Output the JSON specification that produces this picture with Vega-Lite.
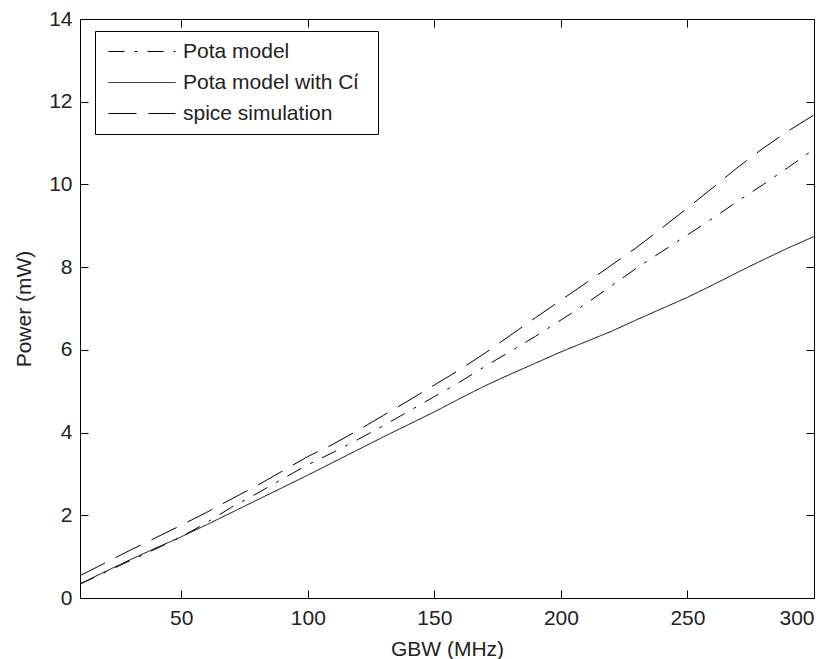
{
  "$schema": "https://vega.github.io/schema/vega-lite/v6.json",
  "width": 734,
  "height": 579,
  "autosize": {"type": "none"},
  "padding": {"left": 80, "top": 19, "right": 18, "bottom": 61},
  "background": "white",
  "config": {
    "font": "Liberation Sans",
    "view": {"stroke": "black", "strokeWidth": 1},
    "axis": {
      "grid": false,
      "domain": false,
      "offset": -8,
      "zindex": 2,
      "tickColor": "black",
      "tickWidth": 1,
      "tickSize": 8,
      "labelFont": "Liberation Sans",
      "labelFontSize": 21,
      "labelColor": "#222222",
      "titleFont": "Liberation Sans",
      "titleFontSize": 21,
      "titleFontWeight": "normal",
      "titleColor": "#222222"
    },
    "legend": {
      "labelFont": "Liberation Sans",
      "labelFontSize": 21,
      "labelColor": "#222222",
      "labelLimit": 500
    }
  },
  "data": {
    "values": [
      {"gbw": 10, "power": 0.34, "series": "Pota model"},
      {"gbw": 20, "power": 0.62, "series": "Pota model"},
      {"gbw": 30, "power": 0.91, "series": "Pota model"},
      {"gbw": 40, "power": 1.19, "series": "Pota model"},
      {"gbw": 50, "power": 1.48, "series": "Pota model"},
      {"gbw": 60, "power": 1.82, "series": "Pota model"},
      {"gbw": 70, "power": 2.2, "series": "Pota model"},
      {"gbw": 80, "power": 2.53, "series": "Pota model"},
      {"gbw": 90, "power": 2.88, "series": "Pota model"},
      {"gbw": 100, "power": 3.22, "series": "Pota model"},
      {"gbw": 110, "power": 3.52, "series": "Pota model"},
      {"gbw": 120, "power": 3.84, "series": "Pota model"},
      {"gbw": 130, "power": 4.17, "series": "Pota model"},
      {"gbw": 140, "power": 4.52, "series": "Pota model"},
      {"gbw": 150, "power": 4.87, "series": "Pota model"},
      {"gbw": 160, "power": 5.22, "series": "Pota model"},
      {"gbw": 170, "power": 5.6, "series": "Pota model"},
      {"gbw": 180, "power": 5.96, "series": "Pota model"},
      {"gbw": 190, "power": 6.33, "series": "Pota model"},
      {"gbw": 200, "power": 6.72, "series": "Pota model"},
      {"gbw": 210, "power": 7.12, "series": "Pota model"},
      {"gbw": 220, "power": 7.55, "series": "Pota model"},
      {"gbw": 230, "power": 7.98, "series": "Pota model"},
      {"gbw": 240, "power": 8.38, "series": "Pota model"},
      {"gbw": 250, "power": 8.78, "series": "Pota model"},
      {"gbw": 260, "power": 9.18, "series": "Pota model"},
      {"gbw": 270, "power": 9.6, "series": "Pota model"},
      {"gbw": 280, "power": 10.0, "series": "Pota model"},
      {"gbw": 290, "power": 10.42, "series": "Pota model"},
      {"gbw": 300, "power": 10.85, "series": "Pota model"},
      {"gbw": 10, "power": 0.34, "series": "Pota model with Cί"},
      {"gbw": 20, "power": 0.64, "series": "Pota model with Cί"},
      {"gbw": 30, "power": 0.93, "series": "Pota model with Cί"},
      {"gbw": 40, "power": 1.21, "series": "Pota model with Cί"},
      {"gbw": 50, "power": 1.48, "series": "Pota model with Cί"},
      {"gbw": 60, "power": 1.77, "series": "Pota model with Cί"},
      {"gbw": 70, "power": 2.07, "series": "Pota model with Cί"},
      {"gbw": 80, "power": 2.37, "series": "Pota model with Cί"},
      {"gbw": 90, "power": 2.67, "series": "Pota model with Cί"},
      {"gbw": 100, "power": 2.97, "series": "Pota model with Cί"},
      {"gbw": 110, "power": 3.28, "series": "Pota model with Cί"},
      {"gbw": 120, "power": 3.59, "series": "Pota model with Cί"},
      {"gbw": 130, "power": 3.9, "series": "Pota model with Cί"},
      {"gbw": 140, "power": 4.2, "series": "Pota model with Cί"},
      {"gbw": 150, "power": 4.5, "series": "Pota model with Cί"},
      {"gbw": 160, "power": 4.82, "series": "Pota model with Cί"},
      {"gbw": 170, "power": 5.13, "series": "Pota model with Cί"},
      {"gbw": 180, "power": 5.41, "series": "Pota model with Cί"},
      {"gbw": 190, "power": 5.68, "series": "Pota model with Cί"},
      {"gbw": 200, "power": 5.95, "series": "Pota model with Cί"},
      {"gbw": 210, "power": 6.2, "series": "Pota model with Cί"},
      {"gbw": 220, "power": 6.45, "series": "Pota model with Cί"},
      {"gbw": 230, "power": 6.73, "series": "Pota model with Cί"},
      {"gbw": 240, "power": 7.0, "series": "Pota model with Cί"},
      {"gbw": 250, "power": 7.27, "series": "Pota model with Cί"},
      {"gbw": 260, "power": 7.57, "series": "Pota model with Cί"},
      {"gbw": 270, "power": 7.88, "series": "Pota model with Cί"},
      {"gbw": 280, "power": 8.18, "series": "Pota model with Cί"},
      {"gbw": 290, "power": 8.47, "series": "Pota model with Cί"},
      {"gbw": 300, "power": 8.74, "series": "Pota model with Cί"},
      {"gbw": 10, "power": 0.54, "series": "spice simulation"},
      {"gbw": 20, "power": 0.85, "series": "spice simulation"},
      {"gbw": 30, "power": 1.16, "series": "spice simulation"},
      {"gbw": 40, "power": 1.46, "series": "spice simulation"},
      {"gbw": 50, "power": 1.76, "series": "spice simulation"},
      {"gbw": 60, "power": 2.07, "series": "spice simulation"},
      {"gbw": 70, "power": 2.4, "series": "spice simulation"},
      {"gbw": 80, "power": 2.72, "series": "spice simulation"},
      {"gbw": 90, "power": 3.07, "series": "spice simulation"},
      {"gbw": 100, "power": 3.42, "series": "spice simulation"},
      {"gbw": 110, "power": 3.72, "series": "spice simulation"},
      {"gbw": 120, "power": 4.06, "series": "spice simulation"},
      {"gbw": 130, "power": 4.42, "series": "spice simulation"},
      {"gbw": 140, "power": 4.78, "series": "spice simulation"},
      {"gbw": 150, "power": 5.15, "series": "spice simulation"},
      {"gbw": 160, "power": 5.52, "series": "spice simulation"},
      {"gbw": 170, "power": 5.92, "series": "spice simulation"},
      {"gbw": 180, "power": 6.35, "series": "spice simulation"},
      {"gbw": 190, "power": 6.78, "series": "spice simulation"},
      {"gbw": 200, "power": 7.2, "series": "spice simulation"},
      {"gbw": 210, "power": 7.62, "series": "spice simulation"},
      {"gbw": 220, "power": 8.05, "series": "spice simulation"},
      {"gbw": 230, "power": 8.48, "series": "spice simulation"},
      {"gbw": 240, "power": 8.95, "series": "spice simulation"},
      {"gbw": 250, "power": 9.43, "series": "spice simulation"},
      {"gbw": 260, "power": 9.92, "series": "spice simulation"},
      {"gbw": 270, "power": 10.42, "series": "spice simulation"},
      {"gbw": 280, "power": 10.88, "series": "spice simulation"},
      {"gbw": 290, "power": 11.3, "series": "spice simulation"},
      {"gbw": 300, "power": 11.68, "series": "spice simulation"}
    ]
  },
  "layer": [
    {
      "mark": {"type": "line", "color": "black", "strokeWidth": 1, "clip": true},
      "encoding": {
        "x": {
          "field": "gbw", "type": "quantitative",
          "scale": {"domain": [10, 300], "nice": false, "zero": false},
          "axis": {"orient": "bottom", "title": "GBW (MHz)", "values": [50, 100, 150, 200, 250, 300], "labelPadding": 9, "titlePadding": 10}
        },
        "y": {
          "field": "power", "type": "quantitative",
          "scale": {"domain": [0, 14], "nice": false},
          "axis": {"orient": "left", "title": "Power (mW)", "values": [0, 2, 4, 6, 8, 10, 12, 14], "labelPadding": 8, "titlePadding": 14}
        },
        "strokeDash": {
          "field": "series", "type": "nominal",
          "scale": {
            "domain": ["Pota model", "Pota model with Cί", "spice simulation"],
            "range": [[16, 10, 3, 10], [1, 0], [28, 12]]
          },
          "legend": {
            "orient": "none",
            "legendX": 15,
            "legendY": 12,
            "title": " ",
            "titleOrient": "right",
            "titlePadding": 15,
            "titleFontSize": 21,
            "symbolType": "stroke",
            "symbolSize": 4489,
            "symbolStrokeWidth": 1,
            "symbolStrokeColor": "black",
            "symbolOffset": 8,
            "labelOffset": 7,
            "clipHeight": 31,
            "rowPadding": 0,
            "padding": 5,
            "fillColor": "white",
            "strokeColor": "black"
          }
        }
      }
    },
    {
      "mark": {"type": "line", "opacity": 0, "strokeWidth": 0},
      "encoding": {
        "x": {
          "field": "gbw", "type": "quantitative",
          "axis": {"orient": "top", "title": null, "labels": false, "values": [50, 100, 150, 200, 250, 300]}
        },
        "y": {
          "field": "power", "type": "quantitative",
          "axis": {"orient": "right", "title": null, "labels": false, "values": [0, 2, 4, 6, 8, 10, 12, 14]}
        },
        "detail": {"field": "series"}
      }
    }
  ],
  "resolve": {"axis": {"x": "independent", "y": "independent"}}
}
